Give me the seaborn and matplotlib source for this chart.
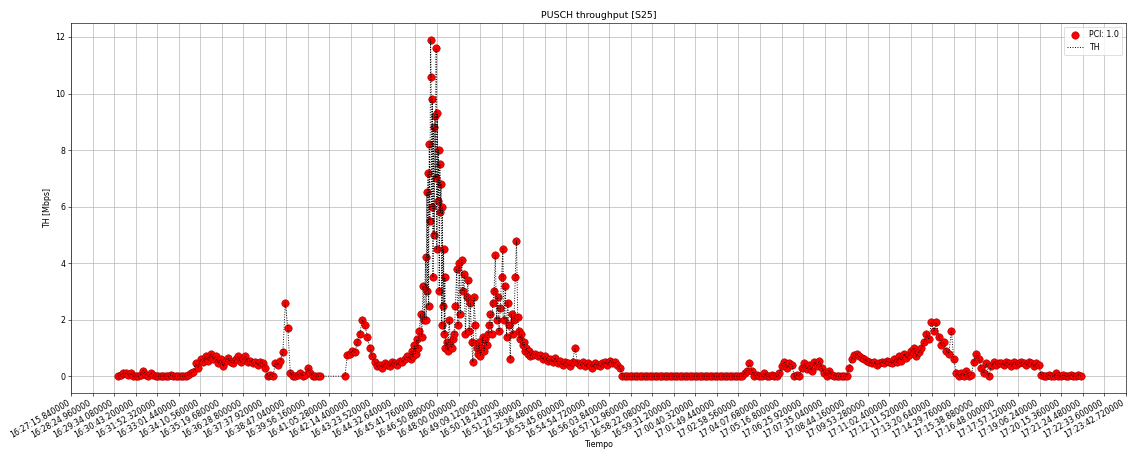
import numpy as np
import pandas as pd
import matplotlib
matplotlib.use("Agg")
import matplotlib.pyplot as plt
import matplotlib.dates as mdates
import seaborn as sns

# ---------------- data ----------------
day = "2023-01-01 "

# segment 1: 16:29:48, one sample every 8 s
seg1_start = "16:29:48"
seg1_step_s = 8
seg1_th = [0, 0.05, 0.1, 0.1, 0.05, 0.1, 0, 0, 0, 0.05, 0.2, 0.05, 0, 0.1, 0.05,
           0, 0, 0, 0, 0, 0, 0.05, 0, 0, 0, 0, 0, 0, 0.05,
           0.1, 0.15,
           0.45, 0.3, 0.6, 0.5, 0.7, 0.55, 0.8, 0.6, 0.7, 0.45,
           0.6, 0.35, 0.55, 0.65, 0.5, 0.45, 0.6, 0.7, 0.5, 0.6,
           0.7, 0.5, 0.55, 0.45, 0.5, 0.4, 0.5, 0.45, 0.3, 0.0,
           0.05, 0.0, 0.45, 0.4, 0.55, 0.85, 2.6, 1.7,
           0.1, 0, 0, 0.05, 0.1, 0, 0.05, 0.3, 0.1, 0, 0, 0, 0]

# segment 2: after a gap in the log
seg2_start = "16:41:55"
seg2_step_s = 8
seg2_th = [0.0, 0.75, 0.8, 0.9, 0.85, 1.2, 1.5, 2.0, 1.8, 1.4, 1.0, 0.7, 0.5,
           0.35, 0.4, 0.3, 0.45, 0.4, 0.35, 0.5, 0.45, 0.4, 0.55, 0.5, 0.6, 0.7]

# segment 3a: rise before the burst, one sample every 4 s
seg3a_start = "16:45:26"
seg3a_step_s = 4
seg3a_th = [0.6, 0.9, 0.7, 1.1, 0.8, 1.3, 1.0,
            1.6, 2.2, 1.4, 3.2, 2.0]

# segment 3b: main burst, one sample every 2 s
seg3b_start = "16:46:14"
seg3b_step_s = 2
seg3b_th = [4.2, 2.0, 6.5, 3.0, 7.2, 2.5, 8.2, 5.5, 11.9, 10.6, 6.0, 9.8, 3.5, 8.8, 5.0, 9.2,
            7.0, 11.6, 4.5, 9.3, 6.2, 8.0, 3.0, 7.5, 5.8, 6.8, 1.8, 6.0, 2.5, 4.5, 1.5, 3.5]

# segment 3c: secondary bursts, one sample every 4 s
seg3c_start = "16:47:18"
seg3c_step_s = 4
seg3c_th = [1.0, 1.2, 0.9, 2.0, 1.1, 1.0, 1.3, 1.5,
            2.5, 3.8, 1.8, 4.0, 2.2, 4.1, 3.0, 3.6, 1.5, 2.8, 3.4, 1.6, 2.6, 1.2, 0.5, 2.8, 1.8, 1.0,
            0.8, 1.2, 0.7, 1.0, 1.4, 0.9, 1.3, 1.1, 1.5,
            1.8, 2.2, 1.5, 2.6, 3.0, 4.3, 2.0, 2.8, 1.6,
            2.4, 3.5, 4.5, 2.0, 3.2, 1.4, 2.6, 1.8, 0.6, 2.2, 1.5, 2.0,
            3.5, 4.8, 2.1,
            1.6, 1.3, 1.5, 1.1, 1.2, 0.9, 1.0, 0.8, 0.9, 0.7, 0.8, 0.75]

# segment 4: one sample every 8 s
seg4_start = "16:52:06"
seg4_step_s = 8
seg4_th = [0.8, 0.7, 0.75, 0.6, 0.7, 0.55, 0.6, 0.5, 0.65, 0.45, 0.55, 0.4, 0.5, 0.45,
           0.35, 0.5, 1.0, 0.45, 0.4, 0.5, 0.35, 0.45, 0.4, 0.3, 0.45, 0.4, 0.35,
           0.45, 0.5, 0.4, 0.55, 0.45, 0.5, 0.4, 0.3,
           0, 0, 0, 0, 0, 0, 0, 0, 0, 0, 0, 0, 0, 0, 0, 0, 0, 0, 0, 0, 0, 0, 0, 0, 0,
           0, 0, 0, 0, 0, 0, 0, 0, 0, 0, 0, 0, 0, 0, 0, 0, 0, 0, 0, 0, 0, 0, 0, 0,
           0.1, 0.2, 0.45, 0.2,
           0, 0.05, 0, 0, 0.1, 0, 0, 0.05, 0, 0, 0.1,
           0.35, 0.5, 0.3, 0.45, 0.4,
           0, 0.05, 0,
           0.3, 0.45, 0.25, 0.4, 0.2, 0.5, 0.35, 0.55, 0.3,
           0.1, 0.0, 0.2, 0.05,
           0, 0, 0, 0, 0, 0,
           0.3, 0.6, 0.75, 0.8, 0.7,
           0.65, 0.6, 0.55, 0.5, 0.45, 0.5, 0.4, 0.45, 0.5, 0.45, 0.55, 0.5, 0.45,
           0.6, 0.5, 0.7, 0.55, 0.8, 0.65, 0.75, 0.9, 1.0, 0.7, 0.85,
           1.0, 1.2, 1.5, 1.3, 1.9, 1.6, 1.9,
           1.4, 1.1, 1.2, 0.9, 0.8, 1.6,
           0.6, 0.1,
           0, 0.1, 0, 0.2, 0, 0.05,
           0.5, 0.8, 0.6,
           0.3, 0.1, 0.45, 0.0, 0.35, 0.5, 0.4, 0.45,
           0.45, 0.4, 0.5, 0.45, 0.35, 0.5, 0.4, 0.45, 0.5, 0.45, 0.4, 0.5, 0.45, 0.35, 0.45, 0.4,
           0.05, 0, 0, 0.05, 0, 0, 0.1, 0, 0, 0.05, 0, 0, 0.05, 0, 0, 0.05, 0]

xtick_first = "16:27:15.840000"
xtick_last = "17:23:42.720000"
n_xticks = 50

title = "PUSCH throughput [S25]"
xlabel = "Tiempo"
ylabel = "TH [Mbps]"
scatter_label = "PCI: 1.0"
line_label = "TH"

# ---------------- build table ----------------
def segment(start, step, vals):
    t0 = pd.Timestamp(day + start)
    times = [t0 + pd.Timedelta(seconds=step * k) for k in range(len(vals))]
    return pd.DataFrame({"Tiempo": times, "TH": vals})

df = pd.concat([segment(seg1_start, seg1_step_s, seg1_th),
                segment(seg2_start, seg2_step_s, seg2_th),
                segment(seg3a_start, seg3a_step_s, seg3a_th),
                segment(seg3b_start, seg3b_step_s, seg3b_th),
                segment(seg3c_start, seg3c_step_s, seg3c_th),
                segment(seg4_start, seg4_step_s, seg4_th)], ignore_index=True)

# ---------------- plot ----------------
W, H = 1129, 450
DPI = W / 20.0
fig, ax = plt.subplots(figsize=(20, H / DPI), dpi=DPI)
fig.subplots_adjust(left=71 / W, right=1126 / W, top=1 - 23 / H, bottom=1 - 393 / H)

sns.scatterplot(data=df, x="Tiempo", y="TH", color="red", edgecolor="#9a0000",
                linewidth=0.7, s=90, label=scatter_label, ax=ax, zorder=2)
sns.lineplot(data=df, x="Tiempo", y="TH", color="black", linestyle=":",
             linewidth=1.2, label=line_label, ax=ax, sort=False, estimator=None, zorder=3)

lo = mdates.date2num(pd.Timestamp(day + xtick_first))
hi = mdates.date2num(pd.Timestamp(day + xtick_last))
ax.set_xlim(lo, hi)
ax.set_xticks(np.linspace(lo, hi, n_xticks))
ax.xaxis.set_major_formatter(mdates.DateFormatter("%H:%M:%S.%f"))
plt.setp(ax.get_xticklabels(), rotation=30, ha="right")

ax.grid(True, color="#b0b0b0", linewidth=0.8)
ax.set_axisbelow(True)
ax.set_title(title)
ax.set_xlabel(xlabel, labelpad=0)
ax.set_ylabel(ylabel)
ax.legend(loc="upper right")

fig.savefig("out.png", dpi=DPI)
